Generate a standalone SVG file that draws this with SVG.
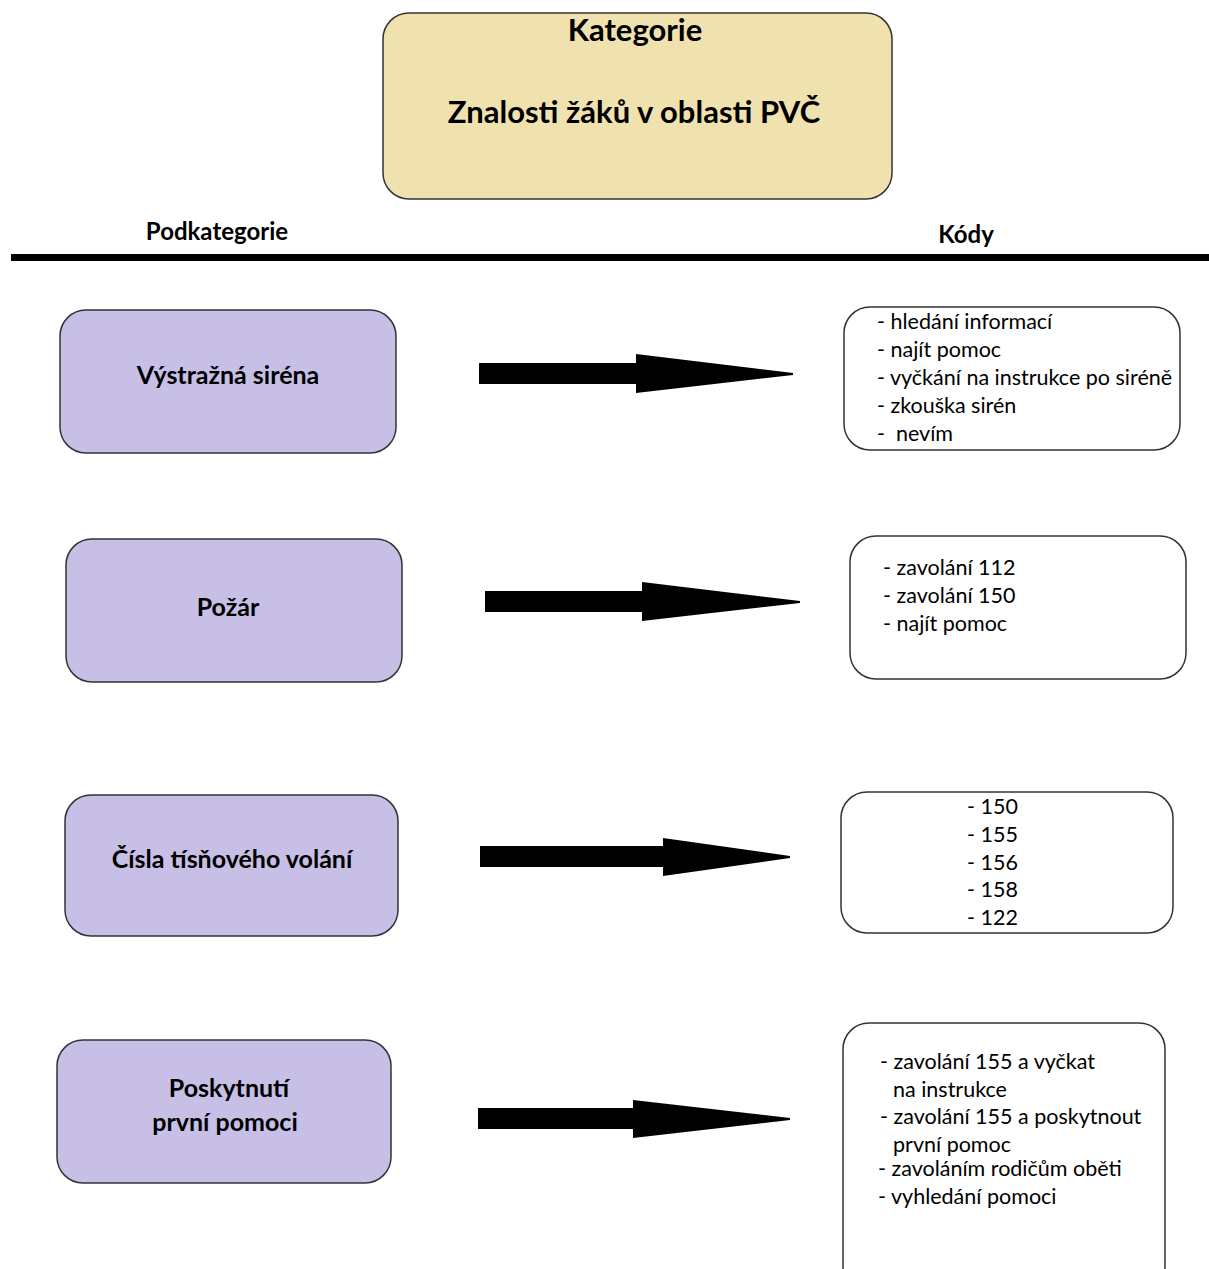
<svg xmlns="http://www.w3.org/2000/svg" width="1209" height="1269" viewBox="0 0 1209 1269">
<style>
text{font-family:Lato,"Open Sans","Liberation Sans",sans-serif;fill:#000;white-space:pre}
.t{font-size:31px;font-weight:bold;text-anchor:middle}
.h{font-size:24px;font-weight:bold;text-anchor:middle}
.lb{font-size:25px;font-weight:bold;text-anchor:middle}
.c{font-size:21.5px}
.cat{fill:#EFE2AE;stroke:#333;stroke-width:1.5}
.sub{fill:#C7BFE6;stroke:#333;stroke-width:1.5}
.code{fill:#fff;stroke:#333;stroke-width:1.5}
.arr{fill:#000}
</style>
<g id="kategorie">
<rect class="cat" x="383" y="13" width="509" height="186" rx="26"/>
<text class="t" x="635" y="41">Kategorie</text>
<text class="t" x="634" y="123">Znalosti žáků v oblasti PVČ</text>
</g>
<g id="headers">
<text class="h" x="217" y="240">Podkategorie</text>
<text class="h" x="966" y="243">Kódy</text>
<rect x="11" y="254" width="1198" height="7" fill="#000"/>
</g>
<g id="sub1">
<rect class="sub" x="60" y="310" width="336" height="143" rx="26"/>
<text class="lb" x="228" y="384">Výstražná siréna</text>
</g>
<g id="sub2">
<rect class="sub" x="66" y="539" width="336" height="143" rx="26"/>
<text class="lb" x="228" y="616">Požár</text>
</g>
<g id="sub3">
<rect class="sub" x="65" y="795" width="333" height="141" rx="26"/>
<text class="lb" x="232" y="868">Čísla tísňového volání</text>
</g>
<g id="sub4">
<rect class="sub" x="57" y="1040" width="334" height="143" rx="26"/>
<text class="lb" x="229" y="1097">Poskytnutí</text>
<text class="lb" x="225" y="1131">první pomoci</text>
</g>
<g id="code1">
<rect class="code" x="844" y="307" width="336" height="143" rx="26"/>
<text class="c" x="877" y="329">- hledání informací</text>
<text class="c" x="877" y="357">- najít pomoc</text>
<text class="c" x="877" y="385">- vyčkání na instrukce po siréně</text>
<text class="c" x="877" y="413">- zkouška sirén</text>
<text class="c" x="877" y="441">-  nevím</text>
</g>
<g id="code2">
<rect class="code" x="850" y="536" width="336" height="143" rx="26"/>
<text class="c" x="883" y="575">- zavolání 112</text>
<text class="c" x="883" y="603">- zavolání 150</text>
<text class="c" x="883" y="631">- najít pomoc</text>
</g>
<g id="code3">
<rect class="code" x="841" y="792" width="332" height="141" rx="26"/>
<text class="c" x="967" y="814">- 150</text>
<text class="c" x="967" y="842">- 155</text>
<text class="c" x="967" y="870">- 156</text>
<text class="c" x="967" y="897">- 158</text>
<text class="c" x="967" y="925">- 122</text>
</g>
<g id="code4">
<rect class="code" x="843" y="1023" width="322" height="270" rx="26"/>
<text class="c" x="880" y="1069">- zavolání 155 a vyčkat</text>
<text class="c" x="893" y="1097">na instrukce</text>
<text class="c" x="880" y="1124">- zavolání 155 a poskytnout</text>
<text class="c" x="893" y="1152">první pomoc</text>
<text class="c" x="878" y="1176">- zavoláním rodičům oběti</text>
<text class="c" x="878" y="1204">- vyhledání pomoci</text>
</g>
<g id="connectors">
<polygon class="arr" points="479,363 636,363 636,354 793,373 793,375 636,393 636,384 479,384"/>
<polygon class="arr" points="485,591 642,591 642,582 800,601 800,603 642,621 642,612 485,612"/>
<polygon class="arr" points="480,846 663,846 663,838 790,856 790,858 663,876 663,867 480,867"/>
<polygon class="arr" points="478,1108 633,1108 633,1100 790,1118 790,1120 633,1138 633,1129 478,1129"/>
</g>
</svg>
